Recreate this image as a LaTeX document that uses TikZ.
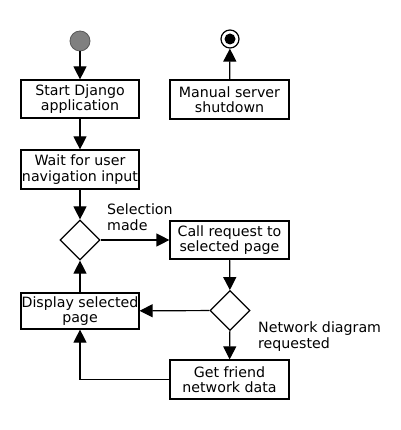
\documentclass[tikz,border=0pt]{standalone}
\usepackage{fontspec}
\setmainfont{DejaVu Sans}
\usetikzlibrary{shapes.geometric,arrows.meta}
\tikzset{
  box/.style={draw, line width=1.2pt, minimum width=118pt, minimum height=38pt, inner sep=0pt, align=center},
  choice/.style={draw, line width=1.2pt, diamond, minimum width=40pt, minimum height=40pt, inner sep=0pt},
  flow/.style={line width=1.2pt, -{Triangle[length=13pt, width=13pt]}},
  note/.style={align=left, inner sep=0pt, anchor=north west}
}
\begin{document}
\begin{tikzpicture}[x=1pt, y=-1pt, font=\fontsize{14.2}{15.5}\selectfont]
        \useasboundingbox (0,0) rectangle (400,430);

        % left column
        \node[circle, fill=gray, draw=black!65, line width=0.8pt, minimum size=20pt, inner sep=0pt] (start) at (80,41) {};
        \node[box] (django) at (80,99) {Start Django\\application};
        \node[box, minimum height=39pt] (wait) at (80,169.5) {Wait for user\\navigation input};
        \node[choice] (sel) at (80,240) {};
        \node[box, minimum height=36pt] (display) at (80,311) {Display selected\\page};

        % right column
        \node[box, minimum width=119pt, minimum height=39pt] (shutdown) at (229.5,99.5) {Manual server\\shutdown};
        \node[circle, draw, line width=1.2pt, minimum size=18pt, inner sep=0pt] (end) at (230,39) {};
        \fill (end) circle (5.5pt);
        \node[box, minimum width=119pt] (call) at (229.5,240) {Call request to\\selected page};
        \node[choice] (net) at (230,310.5) {};
        \node[box, minimum width=119pt, minimum height=39pt] (friend) at (229.5,379.5) {Get friend\\network data};

        % labels
        \node[note] (sellabel) at (107,204) {Selection\\made};
        \node[note] (netlabel) at (258,322) {Network diagram\\requested};

        % arrows
        \draw[flow] (start) -- (django);
        \draw[flow] (django) -- (wait);
        \draw[flow] (wait) -- (sel);
        \draw[flow] (sel) -- (call);
        \draw[flow] (call) -- (net);
        \draw[flow] (net) -- (display);
        \draw[flow] (net) -- (friend);
        \draw[flow] (display) -- (sel);
        \draw[flow] (friend.west) -| (display.south);
        \draw[flow] (shutdown) -- (end);
    \end{tikzpicture}
\end{document}
